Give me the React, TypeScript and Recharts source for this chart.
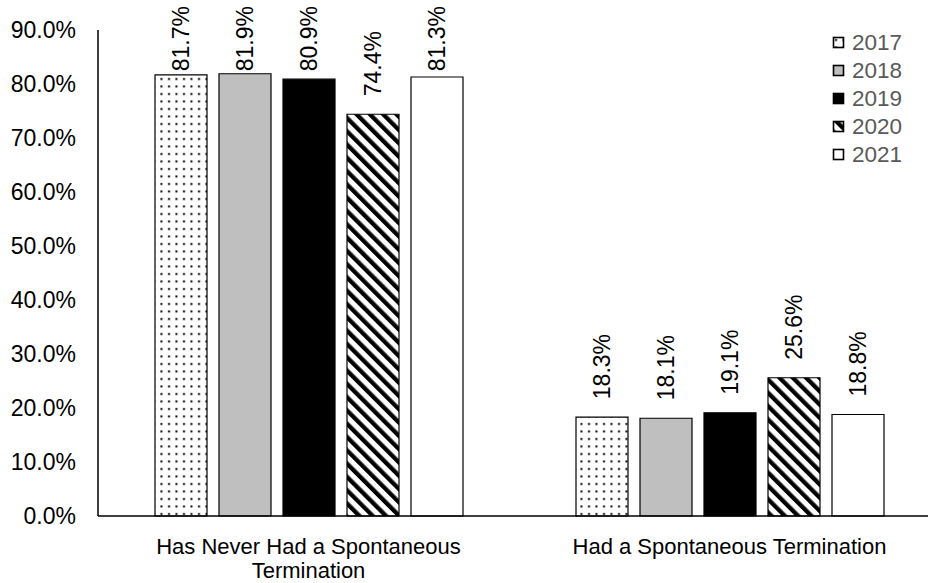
import React from 'react'
import { BarChart, Bar, XAxis, YAxis, Legend, LabelList } from 'recharts'

const categories = ['Has Never Had a Spontaneous\nTermination', 'Had a Spontaneous Termination']
const years = ['2017', '2018', '2019', '2020', '2021']
const values2017 = [0.817, 0.183]
const values2018 = [0.819, 0.181]
const values2019 = [0.809, 0.191]
const values2020 = [0.744, 0.256]
const values2021 = [0.813, 0.188]
const yTicks = [0, 0.1, 0.2, 0.3, 0.4, 0.5, 0.6, 0.7, 0.8, 0.9]

const seriesValues: Record<string, number[]> = {
  '2017': values2017,
  '2018': values2018,
  '2019': values2019,
  '2020': values2020,
  '2021': values2021,
}

const fills: Record<string, string> = {
  '2017': 'url(#patDots)',
  '2018': '#bfbfbf',
  '2019': '#000000',
  '2020': 'url(#patStripes)',
  '2021': '#ffffff',
}

const data = categories.map((name, i) => {
  const row: Record<string, any> = { name }
  years.forEach((yr) => { row[yr] = seriesValues[yr][i] })
  return row
})

const FONT = '"Liberation Sans", Arial, sans-serif'
const pct = (v: number) => `${(v * 100).toFixed(1)}%`

// labels sit above the bar, rotated; pushed down when they'd run off the top
const renderLabel = (props: any) => {
  const { x, y, width, value } = props
  const cx = Number(x) + Number(width) / 2
  const textLen = 65
  let ay = Number(y) - 18
  let anchor: 'start' | 'end' = 'start'
  if (ay - textLen < 6) {
    ay = 6
    anchor = 'end'
  }
  return (
    <text
      x={cx}
      y={ay}
      transform={`rotate(-90 ${cx} ${ay})`}
      textAnchor={anchor}
      dominantBaseline="central"
      fontSize={23}
      fontFamily={FONT}
      fill="#000"
    >
      {pct(Number(value))}
    </text>
  )
}

const CategoryTick = (props: any) => {
  const { x, y, payload } = props
  const lines = String(payload.value).split('\n')
  return (
    <text x={x} y={y} textAnchor="middle" fontSize={22} fontFamily={FONT} fill="#000">
      {lines.map((ln, i) => (
        <tspan key={i} x={x} y={y + 38 + i * 24}>{ln}</tspan>
      ))}
    </text>
  )
}

const LegendBox = () => (
  <div style={{ fontFamily: FONT, fontSize: 22.5, color: '#595959' }}>
    {years.map((yr) => (
      <div key={yr} style={{ display: 'flex', alignItems: 'center', height: 28 }}>
        <svg width={14} height={14} style={{ marginRight: 6 }}>
          <rect x={1.5} y={1.5} width={10} height={10} fill={fills[yr]} stroke="#000" strokeWidth={1.6} />
        </svg>
        <span>{yr}</span>
      </div>
    ))}
  </div>
)

export default function App() {
  return (
    <div style={{ position: 'fixed', left: 0, top: 0, width: 928, height: 583, overflow: 'hidden', background: '#fff' }}>
      <svg width={0} height={0} style={{ position: 'absolute' }}>
        <defs>
          <pattern id="patDots" patternUnits="userSpaceOnUse" width={7.5} height={7.5}>
            <rect width={7.5} height={7.5} fill="#fff" />
            <rect x={3} y={3} width={2} height={2} fill="#000" />
          </pattern>
          <pattern id="patStripes" patternUnits="userSpaceOnUse" width={9.4} height={9.4} patternTransform="rotate(-45)">
            <rect width={9.4} height={9.4} fill="#fff" />
            <rect x={0} y={0} width={4.3} height={9.4} fill="#000" />
          </pattern>
        </defs>
      </svg>
      <BarChart
        width={940}
        height={583}
        data={data}
        margin={{ top: 30, right: 0, bottom: 0, left: 0 }}
        barSize={52}
        barGap={12}
      >
        <XAxis
          dataKey="name"
          height={67}
          tickLine={false}
          tickSize={0}
          tickMargin={0}
          tick={<CategoryTick />}
          interval={0}
          axisLine={{ stroke: '#000', strokeWidth: 1.5 }}
        />
        <YAxis
          width={98}
          domain={[0, 0.9]}
          ticks={yTicks}
          tickFormatter={pct}
          tickLine={false}
          tickSize={0}
          tickMargin={22}
          tick={{ fontSize: 23, fontFamily: FONT, fill: '#000' }}
          axisLine={{ stroke: '#000', strokeWidth: 1.5 }}
          interval={0}
        />
        <Legend
          layout="horizontal"
          verticalAlign="middle"
          align="center"
          content={<LegendBox />}
          wrapperStyle={{ top: 29, left: 832, width: 90, height: 145 }}
        />
        {years.map((yr) => (
          <Bar
            key={yr}
            dataKey={yr}
            fill={fills[yr]}
            stroke="#000"
            strokeWidth={1.2}
            isAnimationActive={false}
          >
            <LabelList dataKey={yr} content={renderLabel} />
          </Bar>
        ))}
      </BarChart>
    </div>
  )
}
